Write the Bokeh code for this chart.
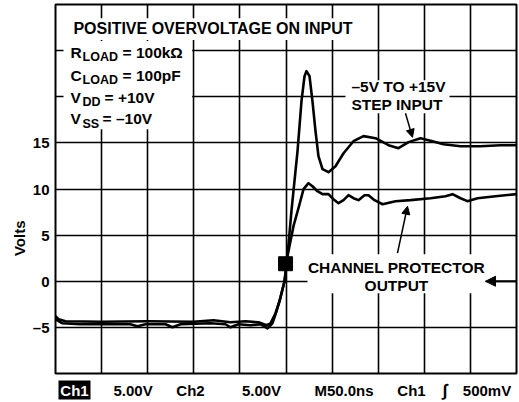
import math
from bokeh.plotting import figure
from bokeh.layouts import column, row
from bokeh.models import Range1d, FixedTicker, Label, Arrow, NormalHead
from bokeh.core.properties import value
from bokeh.embed import file_html
from bokeh.resources import INLINE

# ---- data (time in ns, 50 ns/div; volts) ----
step_t = [0, 3.3, 10.8, 49.9, 99.8, 149.7, 171.4, 189.8, 206.1, 220.2, 228.9, 233.2,
          238.6, 243.0, 248.4, 251.6, 255.9, 262.5, 266.8, 270.1, 272.2, 275.5, 278.7,
          282.0, 285.2, 289.6, 296.1, 303.7, 312.4, 323.2, 334.1, 347.1, 361.2, 372.0,
          382.9, 395.9, 408.9, 420.8, 439.3, 460.9, 482.6, 500]
step_v = [-3.80, -4.12, -4.34, -4.39, -4.34, -4.39, -4.23, -4.45, -4.34, -4.45, -4.77, -4.56,
          -3.47, -2.17, 0.0, 2.71, 7.59, 14.10, 19.52, 22.23, 22.78, 22.23, 19.52,
          16.27, 13.56, 12.15, 11.82, 12.47, 13.88, 15.18, 15.73, 15.51, 14.75, 14.43,
          15.08, 15.51, 15.18, 14.86, 14.64, 14.64, 14.75, 14.75]

out_t = [0, 7.6, 27.1, 49.9, 81.3, 88.9, 97.6, 119.3, 126.9, 135.6, 168.1, 184.4, 189.8,
         198.5, 211.5, 222.3, 229.9, 235.3, 239.7, 244.0, 248.4, 251.6, 258.1, 264.1,
         269.0, 274.4, 278.7, 284.1, 289.6, 296.1, 301.5, 306.9, 312.4, 317.8, 323.2,
         328.6, 335.1, 339.5, 346.0, 354.7, 368.8, 385.0, 406.7, 423.0, 430.6, 439.3,
         446.8, 457.7, 477.2, 500]
out_v = [-4.12, -4.56, -4.66, -4.66, -4.66, -4.88, -4.66, -4.66, -4.99, -4.66, -4.56, -4.66, -4.99,
         -4.66, -4.77, -4.66, -5.10, -4.56, -3.25, -1.74, 0.0, 2.71, 5.97, 8.13,
         9.98, 10.63, 10.30, 9.76, 9.44, 9.44, 8.89, 8.46, 8.79, 9.33, 9.00,
         8.79, 9.33, 9.33, 8.79, 8.35, 8.68, 8.79, 9.00, 9.22, 9.44, 9.00,
         8.68, 9.00, 9.22, 9.44]

trig_t = [249.5]
trig_v = [1.9]

y_ticks = [-5, 0, 5, 10, 15]
y_tick_labels = ["\u20135", "0", "5", "10", "15"]
grid_x = [0, 50, 100, 150, 200, 250, 300, 350, 400, 450, 500]
grid_y = [-10, -5, 0, 5, 10, 15, 20, 25, 30]

y_title = "Volts"
y_title_v = 4.66

status_labels = ["Ch1", "5.00V", "Ch2", "5.00V", "M50.0ns", "Ch1", "\u222b", "500mV"]
status_x = [20.6, 84.1, 146.4, 223.4, 312.9, 386.1, 422.5, 468.0]
status_colors = ["white", "black", "black", "black", "black", "black", "black", "black"]
status_sizes = ["15px", "15px", "15px", "15px", "15px", "15px", "17px", "15px"]

FONT = "Liberation Sans"
LEFT_W = 28

p = figure(width=519 - LEFT_W, height=375, x_range=Range1d(0, 500), y_range=Range1d(-10, 30),
           output_backend="svg", toolbar_location=None, x_axis_location=None,
           min_border_left=55 - LEFT_W, min_border_right=3, min_border_top=4, min_border_bottom=2)

p.outline_line_color = "black"
p.outline_line_width = 2
p.background_fill_color = "white"

p.xgrid.ticker = FixedTicker(ticks=grid_x)
p.ygrid.ticker = FixedTicker(ticks=grid_y)
for g in (p.xgrid, p.ygrid):
    g.grid_line_color = "black"
    g.grid_line_width = 1.6
    g.grid_line_alpha = 1.0

ax = p.yaxis[0]
ax.ticker = FixedTicker(ticks=y_ticks)
ax.major_label_overrides = {t: l for t, l in zip(y_ticks, y_tick_labels)}
ax.axis_line_color = None
ax.major_tick_line_color = None
ax.minor_tick_line_color = None
ax.major_tick_out = 0
ax.major_tick_in = 0
ax.minor_tick_out = 0
ax.minor_tick_in = 0
ax.major_label_standoff = 6
ax.major_label_text_font = FONT
ax.major_label_text_font_style = "bold"
ax.major_label_text_font_size = "15px"
ax.major_label_text_color = "black"

# white backgrounds behind annotation texts (left, right, top, bottom)
box_l = [14.1, 8.7, 314.5, 273.3]
box_r = [325.4, 148.2, 427.3, 466.4]
box_t = [28.52, 26.03, 21.80, 2.93]
box_b = [26.14, 16.49, 18.22, -1.30]
p.quad(left=box_l, right=box_r, top=box_t, bottom=box_b,
       fill_color="white", line_color=None)

p.line(step_t, step_v, line_color="black", line_width=2.6, line_join="round")
p.line(out_t, out_v, line_color="black", line_width=2.6, line_join="round")
p.scatter(trig_t, trig_v, marker="square", size=14, fill_color="black", line_color="black")


def lab(x, y, text, size="15.5px", align="left", baseline="middle", **kw):
    p.add_layout(Label(x=x, y=y, text=text, text_font=FONT, text_font_style="bold",
                       text_font_size=size, text_align=align, text_baseline=baseline,
                       text_color="black", **kw))


lab(170.8, 27.39, "POSITIVE OVERVOLTAGE ON INPUT", size="16px", align="center")

# parameter block with subscripts
x0 = 16.3
lab(x0, 24.84, "R")
lab(x0, 24.30, "LOAD", size="12.5px", x_offset=12)
lab(x0, 24.84, "= 100k\u03a9", x_offset=52)
lab(x0, 22.34, "C")
lab(x0, 21.80, "LOAD", size="12.5px", x_offset=12)
lab(x0, 22.34, "= 100pF", x_offset=52)
lab(x0, 19.96, "V")
lab(x0, 19.41, "DD", size="12.5px", x_offset=12)
lab(x0, 19.96, "= +10V", x_offset=34)
lab(x0, 17.62, "V")
lab(x0, 17.08, "SS", size="12.5px", x_offset=12)
lab(x0, 17.62, "= \u201310V", x_offset=32)

lab(321.0, 21.10, "\u20135V TO +15V")
lab(321.0, 19.20, "STEP INPUT")

lab(369.8, 1.52, "CHANNEL PROTECTOR", align="center")
lab(369.8, -0.43, "OUTPUT", align="center")

# arrows
p.add_layout(Arrow(x_start=379.6, y_start=18.22, x_end=387.2, y_end=15.6,
                   line_width=1.5, end=NormalHead(size=8, fill_color="black", line_color="black")))
p.add_layout(Arrow(x_start=370.9, y_start=3.04, x_end=381.8, y_end=8.13,
                   line_width=1.5, end=NormalHead(size=8, fill_color="black", line_color="black")))
p.add_layout(Arrow(x_start=500, y_start=0, x_end=466.4, y_end=0,
                   line_width=2, end=NormalHead(size=10, fill_color="black", line_color="black")))

# y title strip at the left, sharing the voltage range
v = figure(width=LEFT_W, height=375, x_range=Range1d(0, LEFT_W), y_range=p.y_range,
           output_backend="svg", toolbar_location=None,
           x_axis_location=None, y_axis_location=None,
           min_border_left=0, min_border_right=0, min_border_top=4, min_border_bottom=2)
v.outline_line_color = None
v.xgrid.visible = False
v.ygrid.visible = False
v.text(x=[18.5], y=[y_title_v], text=[y_title], angle=math.pi / 2,
       text_font=value(FONT), text_font_style="bold", text_font_size="15px",
       text_align="center", text_baseline="middle", text_color="black")

# scope status line below the grid
s = figure(width=519, height=27, x_range=p.x_range, y_range=Range1d(0, 27),
           output_backend="svg", toolbar_location=None,
           x_axis_location=None, y_axis_location=None,
           min_border_left=55, min_border_right=3, min_border_top=0, min_border_bottom=0)
s.outline_line_color = None
s.xgrid.visible = False
s.ygrid.visible = False
s.quad(left=[3.25], right=[37.96], top=[22], bottom=[3], fill_color="black", line_color=None)
s.text(x=status_x, y=[12.5] * len(status_x), text=status_labels, text_color=status_colors,
       text_font=value(FONT), text_font_style="bold", text_font_size=status_sizes,
       text_align="center", text_baseline="middle")

layout = column(row(v, p, spacing=0), s, spacing=0)
open("out.html", "w").write(file_html(layout, INLINE))
